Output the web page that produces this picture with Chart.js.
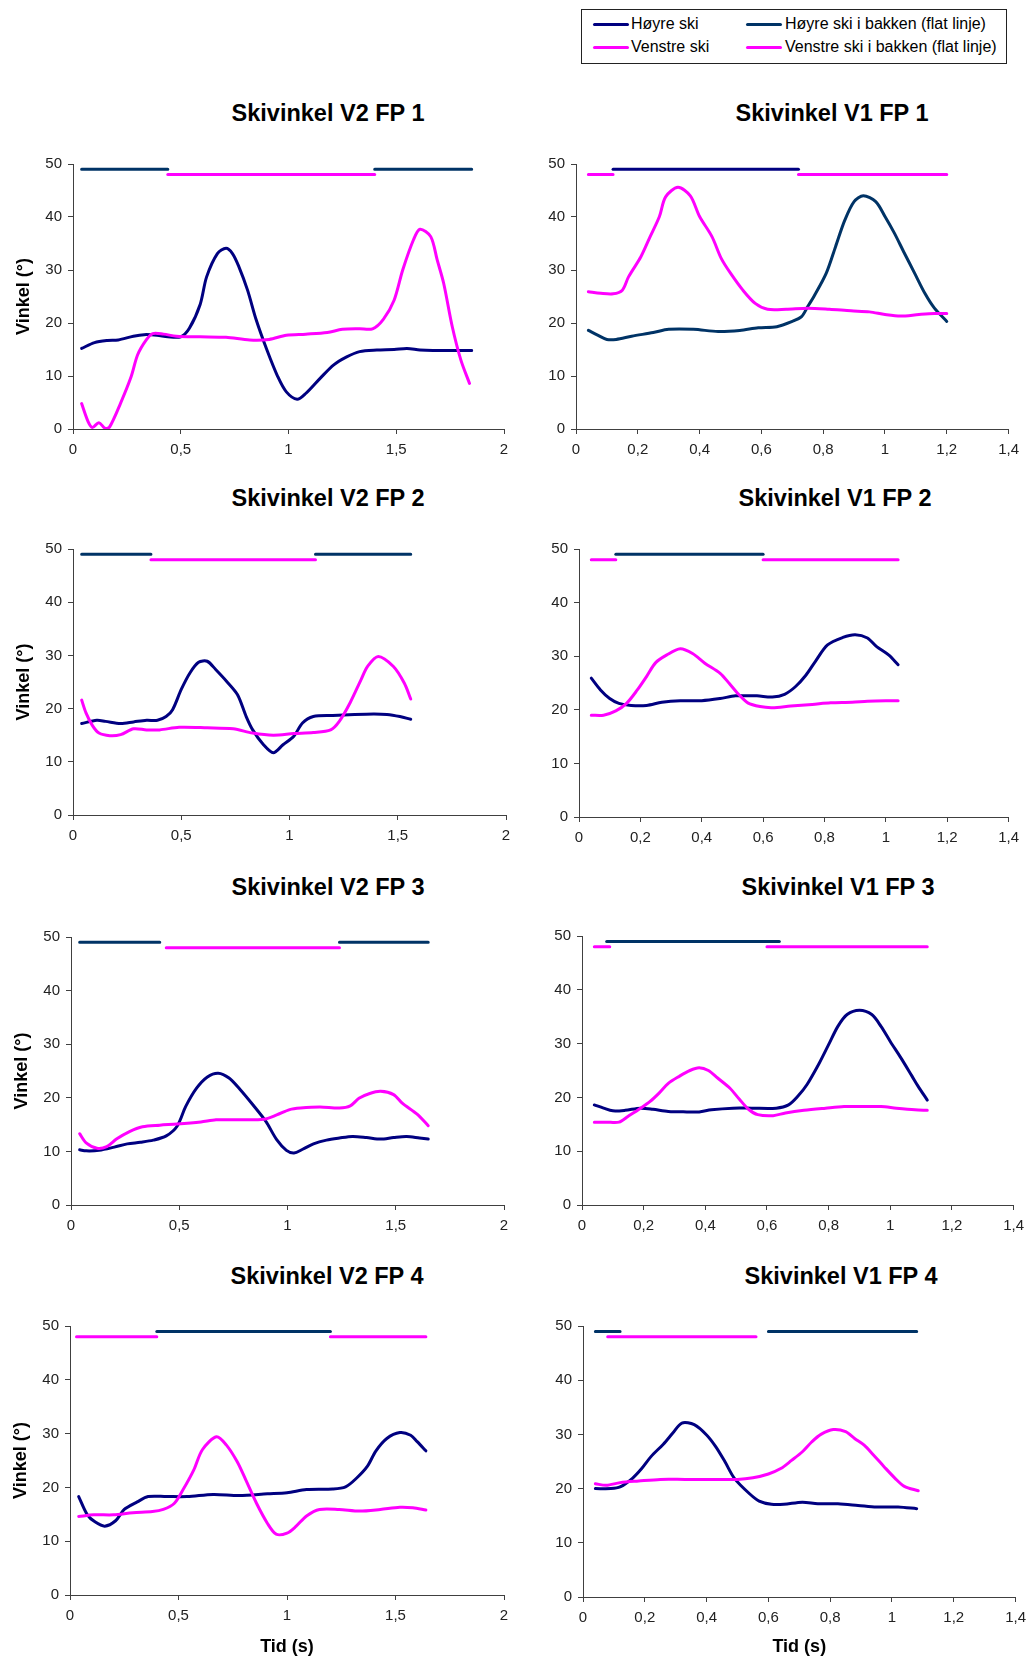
<!DOCTYPE html>
<html>
<head>
<meta charset="utf-8">
<script src="https://cdn.jsdelivr.net/npm/chart.js@4.4.0/dist/chart.umd.min.js"></script>
<style>
    body { margin: 0; background: #fff; width: 1033px; height: 1658px; position: relative; overflow: hidden;
           font-family: "Liberation Sans", Arial, sans-serif; }
    canvas { position: absolute; }
    .tittel { position: absolute; width: 400px; text-align: center; font-weight: bold; font-size: 23.5px;
              line-height: 28px; color: #000; }
    #legend { position: absolute; left: 581px; top: 9px; width: 424px; height: 53px; border: 1px solid #222; }
    #legend .strek { position: absolute; height: 3px; border-radius: 1.5px; }
    #legend .tekst { position: absolute; font-size: 16px; line-height: 20px; color: #000; white-space: nowrap; }
</style>
</head>
<body>

<div id="legend">
    <div class="strek" style="left:11px;top:13px;width:36px;background:#000080"></div>
    <div class="tekst" style="left:49px;top:4px">Høyre ski</div>
    <div class="strek" style="left:164px;top:13px;width:36px;background:#003366"></div>
    <div class="tekst" style="left:203px;top:4px">Høyre ski i bakken (flat linje)</div>
    <div class="strek" style="left:11px;top:36px;width:36px;background:#ff00ff"></div>
    <div class="tekst" style="left:49px;top:27px">Venstre ski</div>
    <div class="strek" style="left:164px;top:36px;width:36px;background:#ff00ff"></div>
    <div class="tekst" style="left:203px;top:27px">Venstre ski i bakken (flat linje)</div>
</div>

<script>
// Akser
const yTickVals = [0, 10, 20, 30, 40, 50];
const yTickLabels = ['0', '10', '20', '30', '40', '50'];
const xTickValsV2 = [0, 0.5, 1, 1.5, 2];
const xTickLabelsV2 = ['0', '0,5', '1', '1,5', '2'];
const xTickValsV1 = [0, 0.2, 0.4, 0.6, 0.8, 1, 1.2, 1.4];
const xTickLabelsV1 = ['0', '0,2', '0,4', '0,6', '0,8', '1', '1,2', '1,4'];

// nivå for flate linjer (i bakken)
const hoyreBakkenNivaa = 49;
const venstreBakkenNivaa = 48;

// Skivinkel V2 FP 1  [tid (s), vinkel (°)]
const v2fp1Hoyre = [[0.04,15.2],[0.10,16.3],[0.16,16.7],[0.21,16.8],[0.28,17.5],[0.33,17.8],[0.39,17.7],[0.44,17.4],[0.50,17.4],[0.54,19.0],[0.59,23.5],[0.62,28.7],[0.67,33.1],[0.71,34.1],[0.74,33.1],[0.77,30.6],[0.81,26.2],[0.85,20.6],[0.90,14.9],[0.95,9.9],[0.99,7.0],[1.04,5.6],[1.08,6.7],[1.15,9.7],[1.21,12.1],[1.27,13.6],[1.33,14.6],[1.41,14.9],[1.49,15.0],[1.55,15.2],[1.61,14.9],[1.67,14.8],[1.85,14.8]];
const v2fp1Venstre = [[0.04,4.8],[0.07,1.4],[0.09,0.3],[0.12,1.2],[0.15,0.1],[0.17,0.4],[0.22,4.8],[0.27,9.9],[0.30,14.0],[0.34,16.8],[0.37,18.0],[0.42,17.9],[0.48,17.5],[0.59,17.4],[0.71,17.3],[0.82,16.8],[0.91,16.9],[0.99,17.7],[1.08,17.9],[1.18,18.2],[1.25,18.8],[1.33,18.9],[1.39,18.9],[1.44,20.7],[1.49,24.3],[1.53,30.0],[1.58,35.7],[1.61,37.7],[1.66,36.3],[1.69,31.9],[1.72,27.5],[1.76,19.3],[1.80,13.0],[1.84,8.6]];
const v2fp1HoyreBakken = [[0.04,0.44],[1.40,1.85]];
const v2fp1VenstreBakken = [[0.44,1.40]];

// Skivinkel V1 FP 1
const v1fp1Hoyre = [[0.04,18.6],[0.07,17.7],[0.10,16.9],[0.13,16.9],[0.18,17.5],[0.25,18.2],[0.30,18.8],[0.38,18.8],[0.46,18.4],[0.53,18.6],[0.59,19.1],[0.65,19.3],[0.70,20.3],[0.73,21.2],[0.75,23.1],[0.77,25.0],[0.81,29.4],[0.84,34.4],[0.87,39.4],[0.90,42.9],[0.93,44.0],[0.97,42.9],[1.00,40.1],[1.03,37.0],[1.06,33.5],[1.095,29.5],[1.13,25.5],[1.16,22.8],[1.20,20.3]];
const v1fp1Venstre = [[0.04,25.9],[0.08,25.6],[0.12,25.5],[0.15,26.2],[0.17,28.7],[0.21,32.5],[0.24,36.3],[0.27,40.1],[0.29,43.8],[0.33,45.6],[0.37,44.0],[0.40,40.1],[0.44,36.3],[0.47,32.2],[0.50,29.4],[0.54,26.2],[0.58,23.7],[0.62,22.6],[0.68,22.6],[0.75,22.8],[0.82,22.6],[0.89,22.3],[0.95,22.1],[1.00,21.6],[1.05,21.3],[1.11,21.6],[1.16,21.8],[1.20,21.8]];
const v1fp1HoyreBakken = [[0.12,0.72]];
const v1fp1VenstreBakken = [[0.04,0.12],[0.72,1.20]];

// Skivinkel V2 FP 2
const v2fp2Hoyre = [[0.04,17.2],[0.11,17.8],[0.15,17.6],[0.22,17.2],[0.28,17.5],[0.34,17.8],[0.39,17.8],[0.43,18.5],[0.46,19.8],[0.50,23.6],[0.54,26.7],[0.58,28.7],[0.62,28.9],[0.66,27.3],[0.71,25.1],[0.76,22.6],[0.80,18.5],[0.83,16.0],[0.88,13.2],[0.925,11.7],[0.97,13.2],[1.02,14.8],[1.06,17.3],[1.11,18.5],[1.20,18.7],[1.30,18.9],[1.39,19.0],[1.45,18.9],[1.51,18.5],[1.56,18.0]];
const v2fp2Venstre = [[0.04,21.6],[0.06,19.2],[0.09,16.8],[0.12,15.4],[0.17,14.9],[0.22,15.1],[0.28,16.2],[0.34,16.0],[0.40,16.0],[0.49,16.5],[0.62,16.4],[0.74,16.2],[0.83,15.4],[0.925,15.0],[1.02,15.3],[1.11,15.5],[1.19,16.0],[1.23,17.6],[1.28,21.1],[1.33,25.4],[1.36,27.9],[1.41,29.8],[1.48,27.9],[1.53,24.8],[1.56,21.8]];
const v2fp2HoyreBakken = [[0.04,0.36],[1.12,1.56]];
const v2fp2VenstreBakken = [[0.36,1.12]];

// Skivinkel V1 FP 2
const v1fp2Hoyre = [[0.04,25.9],[0.07,23.7],[0.10,22.1],[0.13,21.2],[0.17,20.8],[0.22,20.8],[0.27,21.4],[0.33,21.7],[0.40,21.7],[0.46,22.1],[0.51,22.6],[0.58,22.6],[0.63,22.4],[0.67,22.9],[0.705,24.3],[0.74,26.5],[0.77,29.0],[0.81,32.1],[0.86,33.5],[0.90,34.0],[0.94,33.4],[0.97,31.8],[1.01,30.2],[1.04,28.4]];
const v1fp2Venstre = [[0.04,19.0],[0.08,19.0],[0.12,19.8],[0.155,21.2],[0.19,23.7],[0.22,26.2],[0.25,28.8],[0.285,30.2],[0.33,31.4],[0.37,30.5],[0.41,28.7],[0.46,26.8],[0.49,24.9],[0.52,22.9],[0.55,21.3],[0.59,20.6],[0.63,20.4],[0.69,20.7],[0.76,21.0],[0.82,21.3],[0.89,21.4],[0.94,21.6],[1.00,21.7],[1.04,21.7]];
const v1fp2HoyreBakken = [[0.12,0.60]];
const v1fp2VenstreBakken = [[0.04,0.12],[0.60,1.04]];

// Skivinkel V2 FP 3
const v2fp3Hoyre = [[0.04,10.3],[0.07,10.1],[0.13,10.2],[0.20,10.8],[0.26,11.4],[0.32,11.7],[0.38,12.1],[0.44,12.9],[0.49,14.7],[0.53,18.4],[0.58,21.8],[0.63,23.9],[0.68,24.6],[0.73,23.7],[0.78,21.6],[0.84,18.7],[0.90,15.6],[0.95,12.2],[0.995,10.2],[1.03,9.7],[1.07,10.4],[1.12,11.4],[1.18,12.1],[1.24,12.5],[1.30,12.8],[1.365,12.6],[1.43,12.3],[1.49,12.6],[1.55,12.8],[1.61,12.5],[1.65,12.3]];
const v2fp3Venstre = [[0.04,13.3],[0.07,11.6],[0.12,10.6],[0.165,10.9],[0.21,12.3],[0.27,13.7],[0.33,14.6],[0.41,14.9],[0.49,15.1],[0.60,15.5],[0.67,15.9],[0.78,15.9],[0.89,16.0],[0.95,16.8],[1.01,17.8],[1.06,18.1],[1.15,18.3],[1.24,18.1],[1.29,18.5],[1.33,19.9],[1.38,20.8],[1.43,21.2],[1.49,20.6],[1.53,19.0],[1.60,16.9],[1.65,14.8]];
const v2fp3HoyreBakken = [[0.04,0.41],[1.24,1.65]];
const v2fp3VenstreBakken = [[0.44,1.24]];

// Skivinkel V1 FP 3
const v1fp3Hoyre = [[0.04,18.6],[0.07,18.0],[0.10,17.5],[0.14,17.6],[0.19,18.0],[0.23,17.8],[0.28,17.4],[0.34,17.3],[0.38,17.3],[0.42,17.7],[0.49,18.0],[0.55,18.0],[0.63,18.0],[0.67,18.6],[0.70,20.2],[0.73,22.4],[0.77,26.4],[0.80,29.8],[0.83,33.2],[0.86,35.4],[0.90,36.2],[0.94,35.4],[0.97,33.2],[1.00,30.4],[1.035,27.3],[1.07,24.0],[1.09,22.1],[1.12,19.5]];
const v1fp3Venstre = [[0.04,15.4],[0.08,15.4],[0.12,15.4],[0.15,16.5],[0.19,18.0],[0.22,19.2],[0.25,20.8],[0.28,22.6],[0.315,23.9],[0.35,25.0],[0.38,25.5],[0.41,25.0],[0.44,23.6],[0.48,21.7],[0.51,19.7],[0.54,17.8],[0.57,16.8],[0.62,16.6],[0.66,17.1],[0.72,17.6],[0.79,18.0],[0.85,18.3],[0.92,18.3],[0.97,18.3],[1.02,18.0],[1.08,17.7],[1.12,17.6]];
const v1fp3HoyreBakken = [[0.08,0.64]];
const v1fp3VenstreBakken = [[0.04,0.09],[0.60,1.12]];

// Skivinkel V2 FP 4
const v2fp4Hoyre = [[0.04,18.3],[0.08,14.9],[0.115,13.6],[0.16,12.8],[0.21,13.8],[0.25,15.9],[0.31,17.3],[0.36,18.3],[0.445,18.3],[0.54,18.3],[0.66,18.7],[0.78,18.5],[0.91,18.8],[1.00,19.0],[1.09,19.6],[1.21,19.7],[1.27,20.1],[1.32,21.7],[1.37,23.9],[1.41,26.8],[1.46,29.1],[1.52,30.2],[1.57,29.7],[1.60,28.5],[1.64,26.8]];
const v2fp4Venstre = [[0.04,14.6],[0.11,14.9],[0.20,14.9],[0.29,15.3],[0.38,15.5],[0.43,15.9],[0.48,17.0],[0.52,19.5],[0.57,23.2],[0.61,27.0],[0.675,29.4],[0.72,27.9],[0.77,24.8],[0.81,21.4],[0.86,17.0],[0.91,13.3],[0.95,11.3],[1.00,11.5],[1.04,12.7],[1.09,14.7],[1.15,15.9],[1.24,15.9],[1.335,15.6],[1.43,15.9],[1.52,16.3],[1.58,16.2],[1.64,15.8]];
const v2fp4HoyreBakken = [[0.40,1.20]];
const v2fp4VenstreBakken = [[0.03,0.40],[1.20,1.64]];

// Skivinkel V1 FP 4
const v1fp4Hoyre = [[0.04,20.0],[0.09,20.0],[0.12,20.3],[0.16,21.9],[0.19,23.7],[0.22,25.9],[0.26,28.2],[0.29,30.2],[0.32,32.1],[0.36,31.8],[0.40,29.9],[0.43,27.7],[0.46,24.9],[0.49,21.9],[0.54,19.0],[0.57,17.7],[0.61,17.1],[0.65,17.1],[0.71,17.5],[0.76,17.2],[0.825,17.2],[0.89,16.9],[0.95,16.6],[1.02,16.6],[1.08,16.3]];
const v1fp4Venstre = [[0.04,20.9],[0.075,20.6],[0.12,21.1],[0.18,21.4],[0.25,21.7],[0.33,21.7],[0.42,21.7],[0.50,21.7],[0.55,22.0],[0.60,22.7],[0.64,23.7],[0.675,25.2],[0.71,26.8],[0.74,28.6],[0.77,30.0],[0.81,30.9],[0.85,30.5],[0.88,29.2],[0.91,28.0],[0.94,26.2],[0.975,24.0],[1.01,21.9],[1.04,20.4],[1.085,19.6]];
const v1fp4HoyreBakken = [[0.04,0.12],[0.60,1.08]];
const v1fp4VenstreBakken = [[0.08,0.56]];

const NAVY = '#000080';
const BAKKEN = '#003366';
const MAGENTA = '#ff00ff';
const AKSE = '#404040';

// plassering: plot = [venstre, topp, hoyre, bunn] i sidepiksler
const diagrammer = [
    { tittel: 'Skivinkel V2 FP 1', tx: 328, ty: 113, plot: [73, 164, 504, 429], v2: true, yTittel: true,
      hoyre: v2fp1Hoyre, venstre: v2fp1Venstre, hB: v2fp1HoyreBakken, vB: v2fp1VenstreBakken },
    { tittel: 'Skivinkel V1 FP 1', tx: 832, ty: 113, plot: [576, 164, 1012, 429], v2: false,
      hoyre: v1fp1Hoyre, venstre: v1fp1Venstre, hB: v1fp1HoyreBakken, vB: v1fp1VenstreBakken,
      hoyreFarge: BAKKEN, bakkenFarge: NAVY },
    { tittel: 'Skivinkel V2 FP 2', tx: 328, ty: 498, plot: [73, 549, 506, 815], v2: true, yTittel: true,
      hoyre: v2fp2Hoyre, venstre: v2fp2Venstre, hB: v2fp2HoyreBakken, vB: v2fp2VenstreBakken },
    { tittel: 'Skivinkel V1 FP 2', tx: 835, ty: 498, plot: [579, 549, 1012, 817], v2: false,
      hoyre: v1fp2Hoyre, venstre: v1fp2Venstre, hB: v1fp2HoyreBakken, vB: v1fp2VenstreBakken },
    { tittel: 'Skivinkel V2 FP 3', tx: 328, ty: 887, plot: [71, 937, 504, 1205], v2: true, yTittel: true,
      hoyre: v2fp3Hoyre, venstre: v2fp3Venstre, hB: v2fp3HoyreBakken, vB: v2fp3VenstreBakken },
    { tittel: 'Skivinkel V1 FP 3', tx: 838, ty: 887, plot: [582, 936, 1017, 1205], v2: false,
      hoyre: v1fp3Hoyre, venstre: v1fp3Venstre, hB: v1fp3HoyreBakken, vB: v1fp3VenstreBakken },
    { tittel: 'Skivinkel V2 FP 4', tx: 327, ty: 1276, plot: [70, 1326, 504, 1595], v2: true, yTittel: true, xTittel: true,
      hoyre: v2fp4Hoyre, venstre: v2fp4Venstre, hB: v2fp4HoyreBakken, vB: v2fp4VenstreBakken },
    { tittel: 'Skivinkel V1 FP 4', tx: 841, ty: 1276, plot: [583, 1326, 1019, 1597], v2: false, xTittel: true,
      hoyre: v1fp4Hoyre, venstre: v1fp4Venstre, hB: v1fp4HoyreBakken, vB: v1fp4VenstreBakken }
];

function kurve(par) {
    return par.map(p => ({ x: p[0], y: p[1] }));
}

function flatLinje(segmenter, nivaa) {
    const punkter = [];
    segmenter.forEach(s => {
        punkter.push({ x: s[0], y: nivaa }, { x: s[1], y: nivaa }, { x: s[1], y: null });
    });
    return punkter;
}

function lagDiagram(d) {
    const [pl, pt, pr, pb] = d.plot;
    const yBredde = d.yTittel ? 72 : 63;
    const padTop = 20;
    const padRight = 14;
    const xHoyde = d.xTittel ? (1658 - pb) : 40;

    const canvas = document.createElement('canvas');
    canvas.width = yBredde + (pr - pl) + padRight;
    canvas.height = padTop + (pb - pt) + xHoyde;
    canvas.style.left = (pl - yBredde) + 'px';
    canvas.style.top = (pt - padTop) + 'px';
    document.body.appendChild(canvas);

    const t = document.createElement('div');
    t.className = 'tittel';
    t.textContent = d.tittel;
    t.style.left = (d.tx - 200) + 'px';
    t.style.top = (d.ty - 14) + 'px';
    document.body.appendChild(t);

    const xVals = d.v2 ? xTickValsV2 : xTickValsV1;
    const xLabels = d.v2 ? xTickLabelsV2 : xTickLabelsV1;
    const linje = { pointRadius: 0, borderWidth: 3, fill: false, borderCapStyle: 'round',
                    borderJoinStyle: 'round', tension: 0.3 };

    return new Chart(canvas.getContext('2d'), {
        type: 'line',
        data: {
            datasets: [
                Object.assign({ label: 'Venstre ski', data: kurve(d.venstre), borderColor: MAGENTA }, linje),
                Object.assign({ label: 'Høyre ski', data: kurve(d.hoyre), borderColor: d.hoyreFarge || NAVY }, linje),
                Object.assign({ label: 'Høyre ski i bakken (flat linje)', data: flatLinje(d.hB, hoyreBakkenNivaa),
                                borderColor: d.bakkenFarge || BAKKEN, spanGaps: false }, linje),
                Object.assign({ label: 'Venstre ski i bakken (flat linje)', data: flatLinje(d.vB, venstreBakkenNivaa),
                                borderColor: MAGENTA, spanGaps: false }, linje)
            ]
        },
        options: {
            responsive: false,
            animation: false,
            layout: { padding: { top: padTop, right: padRight, left: 0, bottom: 0 } },
            plugins: {
                legend: { display: false },
                tooltip: { enabled: false }
            },
            scales: {
                x: {
                    type: 'linear',
                    min: 0,
                    max: d.v2 ? 2 : 1.4,
                    afterBuildTicks: s => { s.ticks = xVals.map(v => ({ value: v })); },
                    afterFit: s => { s.height = xHoyde; },
                    ticks: {
                        callback: (v, i) => xLabels[i],
                        font: { family: '"Liberation Sans", Arial', size: 15 },
                        color: '#222',
                        padding: 7,
                        maxRotation: 0
                    },
                    grid: { drawOnChartArea: false, tickLength: 5, color: AKSE },
                    border: { display: true, color: AKSE, width: 1 },
                    title: {
                        display: !!d.xTittel,
                        text: 'Tid (s)',
                        font: { family: '"Liberation Sans", Arial', size: 18, weight: 'bold' },
                        color: '#000',
                        padding: { top: 0, bottom: 0 }
                    }
                },
                y: {
                    min: 0,
                    max: 50,
                    afterBuildTicks: s => { s.ticks = yTickVals.map(v => ({ value: v })); },
                    afterFit: s => { s.width = yBredde; },
                    ticks: {
                        callback: (v, i) => yTickLabels[i],
                        font: { family: '"Liberation Sans", Arial', size: 15 },
                        color: '#222',
                        padding: 6
                    },
                    grid: { drawOnChartArea: false, tickLength: 5, color: AKSE },
                    border: { display: true, color: AKSE, width: 1 },
                    title: {
                        display: !!d.yTittel,
                        text: 'Vinkel (°)',
                        font: { family: '"Liberation Sans", Arial', size: 18, weight: 'bold' },
                        color: '#000',
                        padding: { top: 12, bottom: 0 }
                    }
                }
            }
        }
    });
}

diagrammer.forEach(lagDiagram);
</script>
</body>
</html>
